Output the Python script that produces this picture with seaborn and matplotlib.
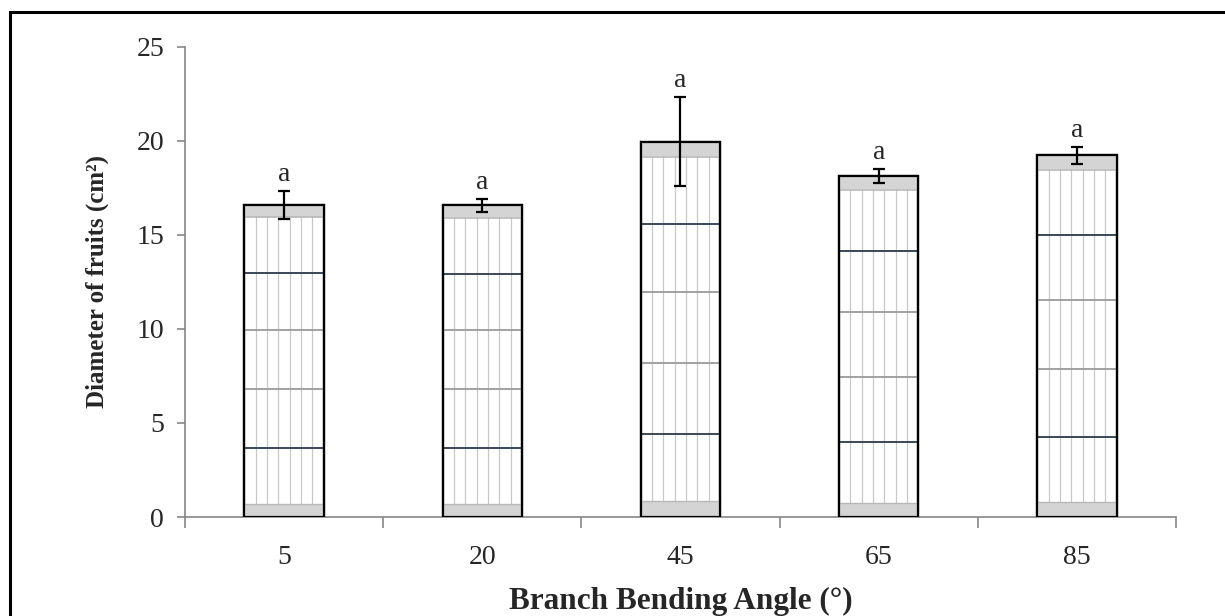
import matplotlib
matplotlib.use("Agg")
import matplotlib.pyplot as plt
import numpy as np
import pandas as pd
import seaborn as sns

angles = ["5", "20", "45", "65", "85"]
diameter = [16.6, 16.57, 19.96, 18.12, 19.22]
err = [0.75, 0.34, 2.38, 0.38, 0.47]
letters = ["a", "a", "a", "a", "a"]

df = pd.DataFrame({"angle": angles, "diameter": diameter})

sns.set_style("white")
plt.rcParams['font.family'] = ['Liberation Serif', 'DejaVu Serif']

fig = plt.figure(figsize=(12.25, 6.16), dpi=100)
ax = fig.add_axes([0.151, 0.1607, 0.809, 0.7635])

sns.barplot(data=df, x="angle", y="diameter", color="white", width=0.40,
            edgecolor="black", linewidth=1.6, ax=ax, zorder=2)

# excel-like stretched texture inside each bar
for p in ax.patches:
    x0, w, h = p.get_x(), p.get_width(), p.get_height()
    for k in range(1, 7):
        ax.plot([x0 + w * k / 7] * 2, [0, h], color="#c8c8c8", lw=0.9, zorder=2.1)
    for frac, c in [(0.22, "#2b3a4a"), (0.41, "#9a9a9a"), (0.60, "#9a9a9a"), (0.78, "#2b3a4a")]:
        ax.plot([x0, x0 + w], [h * frac] * 2, color=c, lw=1.3, zorder=2.2)
    ax.fill_between([x0, x0 + w], h * 0.962, h, color="#d4d4d4", lw=0, zorder=2.1)
    ax.plot([x0, x0 + w], [h * 0.96] * 2, color="#b8b8b8", lw=1.2, zorder=2.15)
    ax.fill_between([x0, x0 + w], 0, h * 0.04, color="#d4d4d4", lw=0, zorder=2.1)
    ax.plot([x0, x0 + w], [h * 0.042] * 2, color="#b8b8b8", lw=1.0, zorder=2.15)
    # redraw outline on top of texture
    ax.add_patch(plt.Rectangle((x0, 0), w, h, fill=False, edgecolor="black", lw=1.6, zorder=3))

xs = np.arange(len(angles))
ax.errorbar(xs, diameter, yerr=err, fmt="none", ecolor="black", elinewidth=1.6,
            capsize=4, capthick=1.6, zorder=4)
for x, y, e, t in zip(xs, diameter, err, letters):
    ax.text(x, y + e + 0.2, t, ha="center", va="bottom", fontsize=20)

ax.set_ylim(0, 25)
ax.set_xlim(-0.5, len(angles) - 0.5)
ax.set_yticks([0, 5, 10, 15, 20, 25])
ax.tick_params(axis="y", labelsize=20, length=6, width=1.2, color="#868686", direction="out", left=True, pad=9)

ax.set_xticks(np.arange(-0.5, len(angles), 1.0))
ax.set_xticklabels([])
ax.set_xticks(xs, minor=True)
ax.set_xticklabels(angles, minor=True)
ax.tick_params(axis="x", which="major", length=8, width=1.2, color="#868686", direction="out", bottom=True)
ax.tick_params(axis="x", which="minor", length=0, labelsize=20, pad=20)

for s in ["top", "right"]:
    ax.spines[s].set_visible(False)
for s in ["left", "bottom"]:
    ax.spines[s].set_color("#868686")
    ax.spines[s].set_linewidth(1.2)

ax.set_xlabel("Branch Bending Angle (°)", fontsize=22.5, fontweight="bold", labelpad=12)
ax.set_ylabel("Diameter of fruits (cm²)", fontsize=18, fontweight="bold", labelpad=20)

# outer frame
fig.patches.append(plt.Rectangle((10 / 1225, -0.05), 1.1, 1 - 12 / 616 + 0.05,
                                 transform=fig.transFigure, fill=False,
                                 edgecolor="black", lw=2.2, zorder=10))

fig.savefig("out.png", dpi=100)
